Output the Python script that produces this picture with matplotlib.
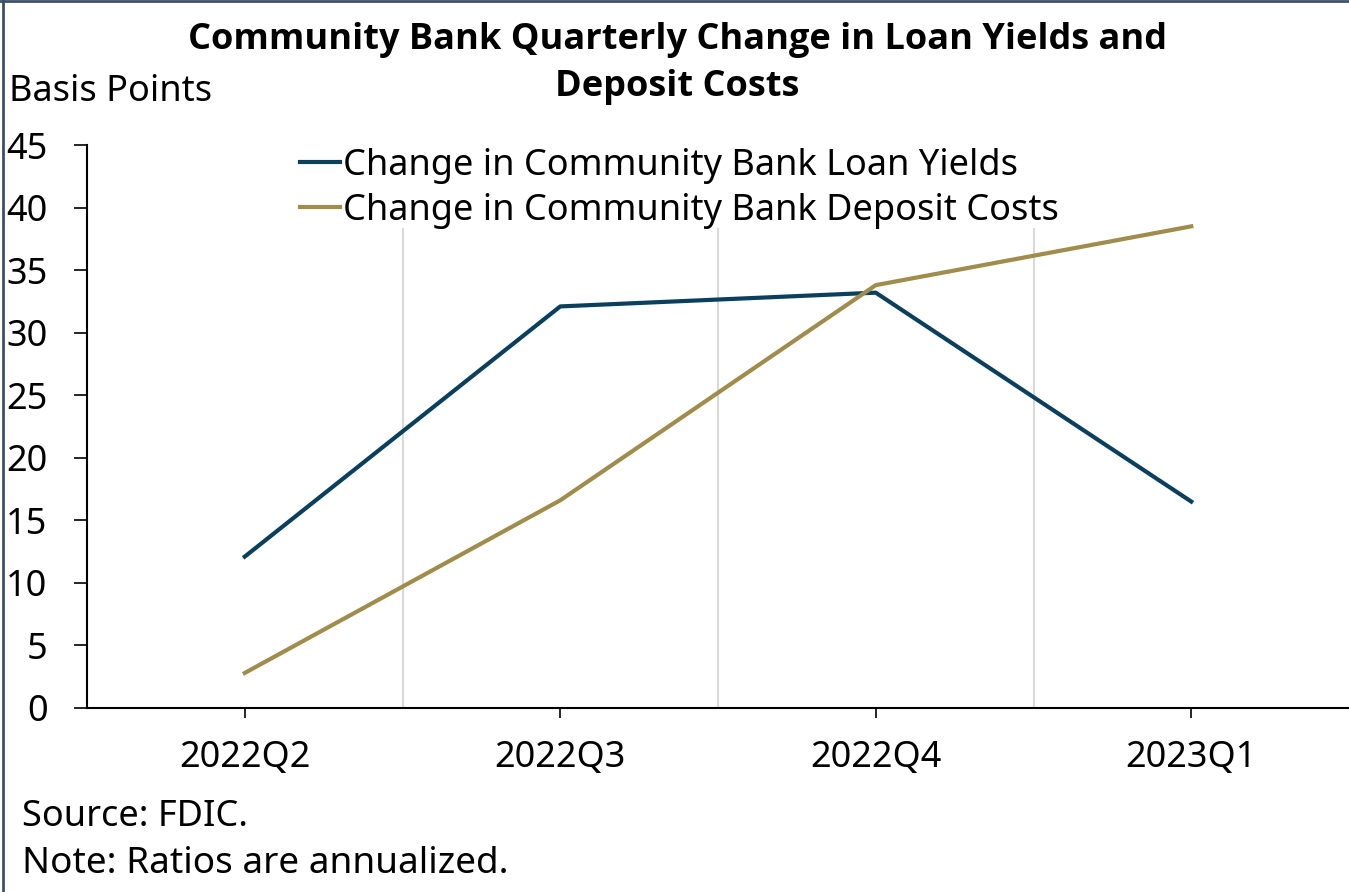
import matplotlib
matplotlib.use("Agg")
import matplotlib.pyplot as plt
from matplotlib.lines import Line2D

quarters = ["2022Q2", "2022Q3", "2022Q4", "2023Q1"]
loan_yields = [12.1, 32.1, 33.2, 16.5]
deposit_costs = [2.8, 16.6, 33.8, 38.5]
y_ticks = [0, 5, 10, 15, 20, 25, 30, 35, 40, 45]
title_lines = ["Community Bank Quarterly Change in Loan Yields and", "Deposit Costs"]

plt.rcParams['font.family'] = ['Noto Sans', 'DejaVu Sans']
FS = 26

fig = plt.figure(figsize=(13.49, 8.92), dpi=100)
ax = fig.add_axes([0.0645, 0.2063, 0.9355, 0.6311])

x = list(range(len(quarters)))
ax.plot(x, loan_yields, color='#0B3F5E', linewidth=3,
        label='Change in Community Bank Loan Yields', zorder=3)
ax.plot(x, deposit_costs, color='#A08C4B', linewidth=3,
        label='Change in Community Bank Deposit Costs', zorder=3)

# light vertical separators between quarters (stop under the legend)
for xv in [0.5, 1.5, 2.5]:
    ax.axvline(xv, ymax=0.85, color='#d9d9d9', linewidth=1.5, zorder=1)

ax.set_xlim(-0.5, 3.5)
ax.set_ylim(0, 45)
ax.set_yticks(y_ticks)
ax.set_xticks(x)
ax.set_xticklabels(quarters)

for side in ['top', 'right']:
    ax.spines[side].set_visible(False)
for side in ['left', 'bottom']:
    ax.spines[side].set_linewidth(1.5)
    ax.spines[side].set_color('black')

ax.tick_params(axis='y', length=9.5, width=1.2, pad=19, labelsize=FS)
ax.tick_params(axis='x', length=7, width=1.2, pad=16, labelsize=FS)

leg = ax.legend(loc='upper left', bbox_to_anchor=(0.149, 1.04), fontsize=FS,
                frameon=False, handlelength=1.1, handletextpad=0.08,
                labelspacing=0.25, borderpad=0.2)

# title as two centred lines
for line, yc in zip(title_lines, [0.955, 0.903]):
    fig.text(0.502, yc, line, ha='center', va='center', fontsize=26,
             fontweight='bold', family=['Open Sans', 'DejaVu Sans'])
fig.text(0.007, 0.897, "Basis Points", ha='left', va='center', fontsize=FS)
fig.text(0.016, 0.084, "Source: FDIC.", ha='left', va='center', fontsize=FS)
fig.text(0.016, 0.031, "Note: Ratios are annualized.", ha='left', va='center', fontsize=26.6)

# frame lines on top and left edge
fig.add_artist(Line2D([0.002, 0.002], [0, 1], transform=fig.transFigure,
                      color='#3E5069', linewidth=2))
fig.add_artist(Line2D([0, 1], [0.999, 0.999], transform=fig.transFigure,
                      color='#3E5069', linewidth=2))

fig.savefig("out.png", dpi=100)
